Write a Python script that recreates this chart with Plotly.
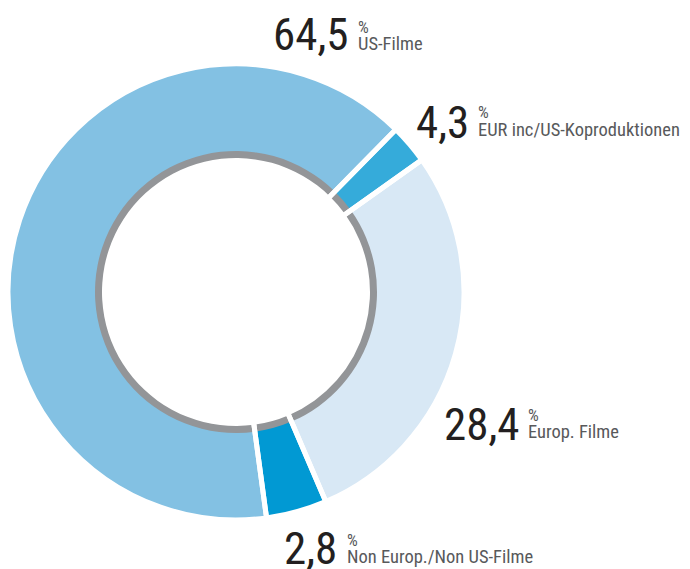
import plotly.graph_objects as go

# Slices in drawn order (clockwise, starting at ~44.5 deg from 12 o'clock)
slice_names = ["EUR inc/US-Koproduktionen", "Europ. Filme", "Non Europ./Non US-Filme", "US-Filme"]
slice_values = [2.8, 28.4, 4.3, 64.5]
slice_colors = ["#35ABDA", "#D8E8F5", "#0199D3", "#83C1E3"]

# Labels as printed in the chart
label_values = ["64,5", "4,3", "28,4", "2,8"]
label_names = ["US-Filme", "EUR inc/US-Koproduktionen", "Europ. Filme", "Non Europ./Non US-Filme"]

W, H = 690, 569
OFF = 8                  # page body margin
CX, CY = 236 - OFF, 292 - OFF
R_OUT = 228
R_GRAY = 141
R_IN = 134
ROT = 44.5


def dom(r):
    return dict(x=[max(0, (CX - r) / W), (CX + r) / W], y=[(H - CY - r) / H, (H - CY + r) / H])


fig = go.Figure()
fig.add_trace(go.Pie(labels=slice_names, values=slice_values, sort=False, direction="clockwise",
                     rotation=ROT, hole=138 / R_OUT, domain=dom(R_OUT),
                     marker=dict(colors=slice_colors, line=dict(width=0)),
                     textinfo="none", hoverinfo="skip", showlegend=False))
fig.add_trace(go.Pie(labels=slice_names, values=slice_values, sort=False, direction="clockwise",
                     rotation=ROT, hole=R_IN / R_GRAY, domain=dom(R_GRAY),
                     marker=dict(colors=["#939598"] * 4, line=dict(width=0)),
                     textinfo="none", hoverinfo="skip", showlegend=False))
fig.add_trace(go.Pie(labels=slice_names, values=slice_values, sort=False, direction="clockwise",
                     rotation=ROT, hole=0, domain=dom(R_OUT),
                     marker=dict(colors=["rgba(0,0,0,0)"] * 4, line=dict(width=5, color="white")),
                     textinfo="none", hoverinfo="skip", showlegend=False))

FONT = "Roboto Condensed, DejaVu Sans Condensed, sans-serif"

# (big number right x, big cap-centre y, small text left x, % centre y, name centre y) in page px
label_pos = [
    (350, 35, 357, 27, 44),
    (470, 123, 477, 112, 130),
    (521, 424, 527, 415, 432),
    (338, 548, 346, 540, 557),
]

for val, name, (bx, by, sx, py_, ny) in zip(label_values, label_names, label_pos):
    fig.add_annotation(x=(bx - OFF) / W, y=1 - (by - OFF) / H, xref="paper", yref="paper", text=val,
                       xanchor="right", yanchor="middle", showarrow=False,
                       font=dict(family=FONT, size=45, color="#231F20"), borderpad=0)
    fig.add_annotation(x=(sx - OFF) / W, y=1 - (py_ - OFF) / H, xref="paper", yref="paper", text="%",
                       xanchor="left", yanchor="middle", showarrow=False,
                       font=dict(family=FONT, size=17, color="#58595B"), borderpad=0)
    fig.add_annotation(x=(sx - OFF) / W, y=1 - (ny - OFF) / H, xref="paper", yref="paper", text=name,
                       xanchor="left", yanchor="middle", showarrow=False,
                       font=dict(family=FONT, size=18.5, color="#58595B"), borderpad=0)

fig.update_layout(width=W, height=H, margin=dict(l=0, r=0, t=0, b=0),
                  paper_bgcolor="white", plot_bgcolor="white")

fig.write_html("out.html")
